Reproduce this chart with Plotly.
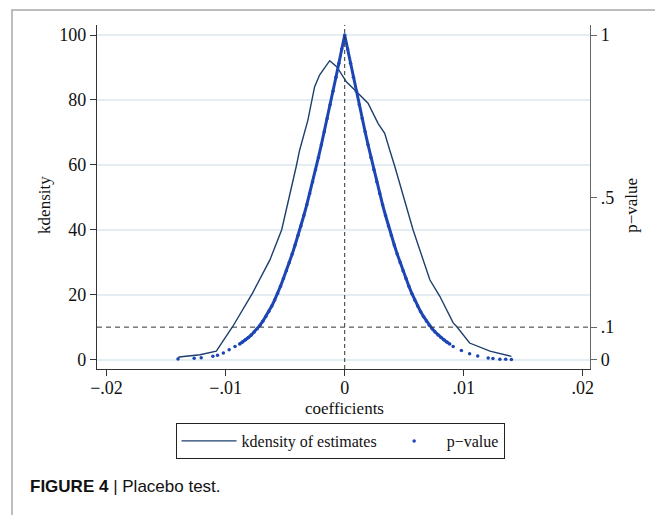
import plotly.graph_objects as go

# kdensity of placebo estimates
kd_x = [-0.0140, -0.0139, -0.01215, -0.01078, -0.0094, -0.00774, -0.00627, -0.00529,
        -0.00407, -0.00378, -0.00309, -0.00253, -0.00211, -0.00126, -0.00065,
        0.00014, 0.00098, 0.00154, 0.00196, 0.0028, 0.00336, 0.00378, 0.00421,
        0.00574, 0.00715, 0.00799, 0.00911, 0.0094, 0.01049, 0.0122, 0.0140]
kd_y = [0.2, 0.8, 1.5, 2.6, 10.2, 20.5, 30.8, 40.0,
        59.5, 64.6, 73.8, 84.0, 87.7, 92.1, 90.2,
        85.6, 82.6, 80.5, 79.0, 72.8, 69.7, 64.6, 59.5,
        40.0, 24.6, 19.5, 11.3, 10.2, 5.1, 2.6, 1.0]

# p-values of placebo estimates (dense core)
pv_core_x = [-0.00882, -0.008575, -0.00833, -0.008085, -0.00784, -0.007595, -0.00735, -0.007105,
             -0.00686, -0.006615, -0.00637, -0.006125, -0.00588, -0.005635, -0.00539, -0.005145,
             -0.0049, -0.004655, -0.00441, -0.004165, -0.00392, -0.003675, -0.00343, -0.003185,
             -0.00294, -0.002695, -0.00245, -0.002205, -0.00196, -0.001715, -0.00147, -0.001225,
             -0.00098, -0.000735, -0.00049, -0.000245, 0.0,
             0.000245, 0.00049, 0.000735, 0.00098, 0.001225, 0.00147, 0.001715, 0.00196,
             0.002205, 0.00245, 0.002695, 0.00294, 0.003185, 0.00343, 0.003675, 0.00392,
             0.004165, 0.00441, 0.004655, 0.0049, 0.005145, 0.00539, 0.005635, 0.00588,
             0.006125, 0.00637, 0.006615, 0.00686, 0.007105, 0.00735, 0.007595, 0.00784,
             0.008085, 0.00833, 0.008575, 0.00882]
pv_core_p = [0.048, 0.054, 0.061, 0.068, 0.076, 0.085, 0.095, 0.106,
             0.119, 0.133, 0.148, 0.165, 0.184, 0.204, 0.226, 0.250,
             0.274, 0.299, 0.325, 0.353, 0.382, 0.412, 0.444, 0.477,
             0.512, 0.548, 0.585, 0.623, 0.662, 0.702, 0.743, 0.785,
             0.827, 0.870, 0.913, 0.957, 1.000,
             0.957, 0.913, 0.870, 0.827, 0.785, 0.743, 0.702, 0.662,
             0.623, 0.585, 0.548, 0.512, 0.477, 0.444, 0.412, 0.382,
             0.353, 0.325, 0.299, 0.274, 0.250, 0.226, 0.204, 0.184,
             0.165, 0.148, 0.133, 0.119, 0.106, 0.095, 0.085, 0.076,
             0.068, 0.061, 0.054, 0.048]
# sparse tails
pv_tail_x = [-0.0140, -0.01264, -0.01205, -0.01107, -0.01068, -0.01019, -0.0097, -0.00921,
             0.00911, 0.0098, 0.01049, 0.01117, 0.01205, 0.01245, 0.01303, 0.01352, 0.0140]
pv_tail_p = [0.002, 0.004, 0.006, 0.010, 0.013, 0.020, 0.030, 0.040,
             0.040, 0.028, 0.018, 0.011, 0.005, 0.003, 0.001, 0.001, 0.000]

x_tickvals = [-0.02, -0.01, 0, 0.01, 0.02]
x_ticktext = ["\u2212.02", "\u2212.01", "0", ".01", ".02"]
y_tickvals = [0, 20, 40, 60, 80, 100]
y2_tickvals = [0, 0.1, 0.5, 1]
y2_ticktext = ["0", ".1", ".5", "1"]

NAVY = "#1d3f6e"
BLUE = "#1c46b4"
SERIF = "Liberation Serif"

fig = go.Figure()
fig.add_trace(go.Scatter(x=kd_x, y=kd_y, mode="lines", name="kdensity of estimates",
                         line=dict(color=NAVY, width=1.4)))
fig.add_trace(go.Scatter(x=pv_core_x, y=pv_core_p, mode="lines", yaxis="y2",
                         line=dict(color=BLUE, width=3), showlegend=False, hoverinfo="skip"))
fig.add_trace(go.Scatter(x=pv_tail_x + pv_core_x, y=pv_tail_p + pv_core_p, mode="markers",
                         yaxis="y2", name="p\u2212value",
                         marker=dict(color=BLUE, size=3.5)))

axis_common = dict(showline=True, linewidth=1.2, ticks="outside", ticklen=6, tickwidth=1,
                   tickfont=dict(family=SERIF, size=18, color="#111"), zeroline=False)

fig.update_layout(
    width=655, height=507,
    margin=dict(l=89, r=73, t=17, b=146),
    paper_bgcolor="white", plot_bgcolor="white",
    showlegend=True,
    legend=dict(orientation="h", x=0.493, xanchor="center", y=-0.157, yanchor="top",
                bordercolor="#222", borderwidth=1, font=dict(family=SERIF, size=16, color="#111"),
                itemwidth=55, tracegroupgap=0),
    xaxis=dict(range=[-0.0208, 0.0206], tickvals=x_tickvals, ticktext=x_ticktext,
               linecolor="#333", tickcolor="#333", showgrid=False, ticklabelstandoff=-4,
               **axis_common),
    yaxis=dict(range=[-2.9, 103.1], tickvals=y_tickvals, linecolor="#333", tickcolor="#333",
               showgrid=True, gridcolor="#e3edf2", gridwidth=1.5, **axis_common),
    yaxis2=dict(range=[-0.029, 1.031], tickvals=y2_tickvals, ticktext=y2_ticktext,
                overlaying="y", side="right", linecolor="#666", tickcolor="#666",
                showgrid=False, **axis_common),
    shapes=[
        dict(type="line", xref="paper", yref="y", x0=0, x1=1, y0=10, y1=10,
             line=dict(color="#333", width=1, dash="5px,4px")),
        dict(type="line", xref="x", yref="paper", x0=0, x1=0, y0=0, y1=1,
             line=dict(color="#333", width=1, dash="4px,3px")),
        dict(type="rect", xref="paper", yref="paper", x0=-0.1724, x1=1.2, y0=-0.5, y1=1.0436,
             line=dict(color="#a8a8a8", width=1.5), layer="below"),
    ],
    annotations=[
        dict(text="kdensity", xref="paper", yref="paper", x=-0.1055, y=0.477, textangle=-90,
             showarrow=False, font=dict(family=SERIF, size=17, color="#111"),
             xanchor="center", yanchor="middle"),
        dict(text="p\u2212value", xref="paper", yref="paper", x=1.085, y=0.477, textangle=-90,
             showarrow=False, font=dict(family=SERIF, size=17, color="#111"),
             xanchor="center", yanchor="middle"),
        dict(text="coefficients", xref="paper", yref="paper", x=0.503, y=-0.1134,
             showarrow=False, font=dict(family=SERIF, size=17, color="#111"),
             xanchor="center", yanchor="middle"),
        dict(text="<b>FIGURE 4</b> | Placebo test.", xref="paper", yref="paper",
             x=-0.14, y=-0.343, showarrow=False,
             font=dict(family="Liberation Sans", size=17, color="#111"),
             xanchor="left", yanchor="middle"),
    ],
)

fig.write_html("out.html")
